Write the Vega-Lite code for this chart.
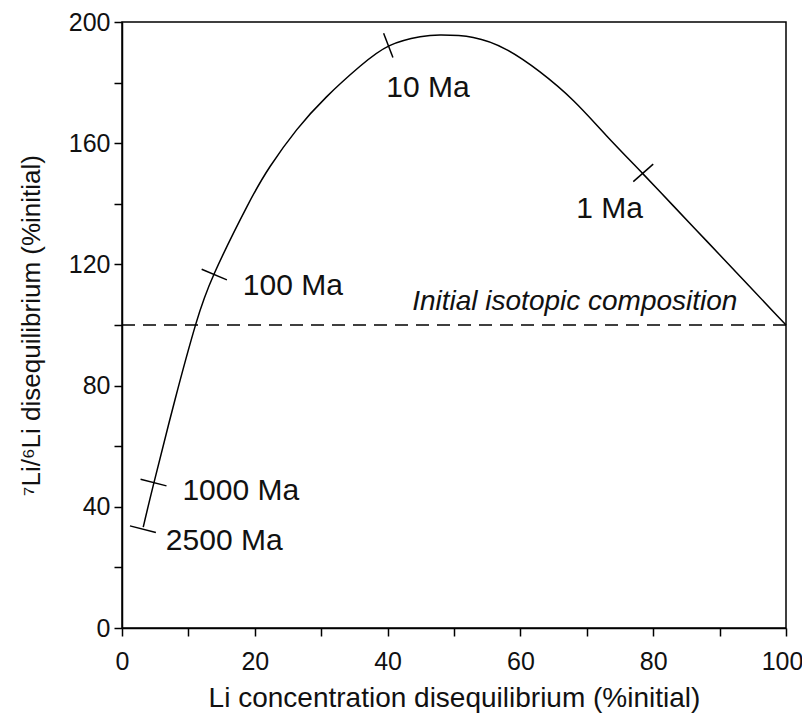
{
  "$schema": "https://vega.github.io/schema/vega-lite/v6.json",
  "width": 664,
  "height": 606,
  "autosize": {"type": "none"},
  "padding": {"left": 122, "top": 22, "right": 16, "bottom": 85},
  "background": "white",
  "config": {
    "view": {"stroke": "black", "strokeWidth": 1.5},
    "font": "Liberation Sans",
    "axis": {
      "grid": false,
      "domainColor": "black",
      "domainWidth": 1.5,
      "tickColor": "black",
      "tickWidth": 1.5,
      "tickSize": 8,
      "labelColor": "#111",
      "titleColor": "#111",
      "labelFont": "Liberation Sans",
      "titleFont": "Liberation Sans",
      "labelFontSize": 25,
      "titleFontSize": 27,
      "titleFontWeight": "normal"
    }
  },
  "datasets": {
    "curve": [
      {"x": 3.2, "y": 33.3},
      {"x": 4.7, "y": 47.0},
      {"x": 8.0, "y": 75.5},
      {"x": 11.1, "y": 100.2},
      {"x": 13.9, "y": 117.0},
      {"x": 18.8, "y": 139.0},
      {"x": 22.3, "y": 152.3},
      {"x": 26.3, "y": 164.4},
      {"x": 30.8, "y": 175.3},
      {"x": 35.8, "y": 185.3},
      {"x": 40.3, "y": 192.2},
      {"x": 44.9, "y": 195.1},
      {"x": 47.9, "y": 195.7},
      {"x": 52.9, "y": 194.9},
      {"x": 57.9, "y": 190.9},
      {"x": 62.9, "y": 183.6},
      {"x": 68.0, "y": 174.0},
      {"x": 73.0, "y": 162.4},
      {"x": 78.5, "y": 149.8},
      {"x": 83.0, "y": 139.4},
      {"x": 88.1, "y": 127.6},
      {"x": 93.1, "y": 116.0},
      {"x": 98.1, "y": 104.4},
      {"x": 100.0, "y": 100.0}
    ],
    "ticks": [
      {"age": "2500 Ma", "x": 1.2, "y": 33.7, "x2": 5.1, "y2": 31.5},
      {"age": "1000 Ma", "x": 2.8, "y": 49.1, "x2": 6.7, "y2": 46.9},
      {"age": "100 Ma", "x": 12.0, "y": 118.4, "x2": 15.8, "y2": 114.9},
      {"age": "10 Ma", "x": 39.4, "y": 196.3, "x2": 40.8, "y2": 188.3},
      {"age": "1 Ma", "x": 77.0, "y": 147.3, "x2": 80.0, "y2": 153.1}
    ],
    "labels": [
      {"label": "2500 Ma", "x": 6.6, "y": 28.7},
      {"label": "1000 Ma", "x": 9.1, "y": 45.2},
      {"label": "100 Ma", "x": 18.2, "y": 112.9},
      {"label": "10 Ma", "x": 39.8, "y": 178.2},
      {"label": "1 Ma", "x": 68.4, "y": 138.4}
    ],
    "initial": [
      {"label": "Initial isotopic composition", "x": 0, "x2": 100, "y": 100, "tx": 43.7, "ty": 105.0}
    ]
  },
  "encoding": {
    "x": {
      "field": "x",
      "type": "quantitative",
      "scale": {"domain": [0, 100], "nice": false, "zero": false},
      "axis": {
        "title": "Li concentration disequilibrium (%initial)",
        "titleFontSize": 28,
        "values": [0, 10, 20, 30, 40, 50, 60, 70, 80, 90, 100],
        "labelExpr": "datum.value % 20 == 0 ? datum.label : ''",
        "labelOffset": {"condition": {"test": "datum.value == 100", "value": -4}, "value": 0},
        "labelPadding": 13,
        "titlePadding": 10,
        "labelFlush": false
      }
    },
    "y": {
      "field": "y",
      "type": "quantitative",
      "scale": {"domain": [0, 200], "nice": false, "zero": false},
      "axis": {
        "title": "⁷Li/⁶Li disequilibrium (%initial)",
        "titleFontSize": 26,
        "values": [0, 20, 40, 60, 80, 100, 120, 140, 160, 180, 200],
        "labelExpr": "datum.value % 40 == 0 ? datum.label : ''",
        "labelPadding": 4,
        "titlePadding": 24,
        "labelFlush": false
      }
    }
  },
  "layer": [
    {
      "data": {"name": "initial"},
      "mark": {"type": "rule", "color": "black", "strokeWidth": 1.5, "strokeDash": [13, 8]},
      "encoding": {"x2": {"field": "x2"}}
    },
    {
      "data": {"name": "initial"},
      "mark": {"type": "text", "fontStyle": "italic", "fontSize": 28, "align": "left", "baseline": "alphabetic", "color": "#111"},
      "encoding": {
        "x": {"field": "tx", "type": "quantitative"},
        "y": {"field": "ty", "type": "quantitative"},
        "text": {"field": "label"}
      }
    },
    {
      "data": {"name": "curve"},
      "mark": {"type": "line", "color": "black", "strokeWidth": 1.5, "interpolate": "natural"},
      "encoding": {}
    },
    {
      "data": {"name": "ticks"},
      "mark": {"type": "rule", "color": "black", "strokeWidth": 1.5},
      "encoding": {
        "x2": {"field": "x2"},
        "y2": {"field": "y2"}
      }
    },
    {
      "data": {"name": "labels"},
      "mark": {"type": "text", "fontSize": 30, "align": "left", "baseline": "middle", "color": "#111"},
      "encoding": {"text": {"field": "label"}}
    }
  ]
}
